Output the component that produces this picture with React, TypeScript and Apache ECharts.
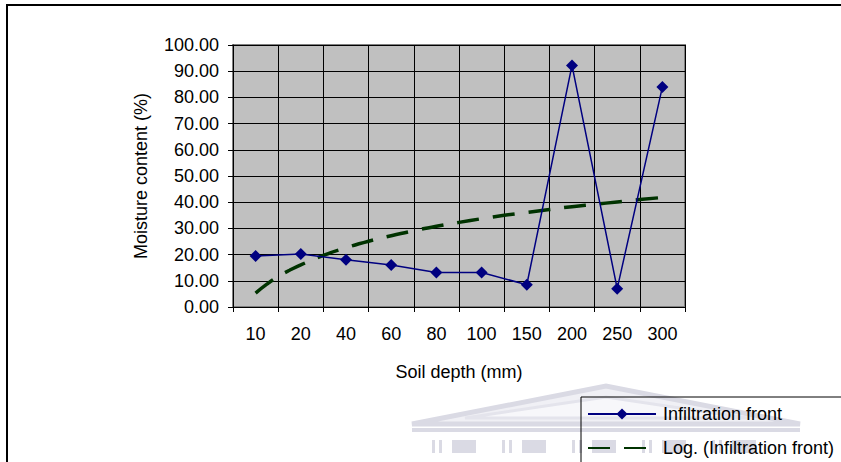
import React, { useEffect, useRef } from "react";
import * as echarts from "echarts";

const categories = ["10", "20", "40", "60", "80", "100", "150", "200", "250", "300"];
const infiltrationFront = [19.5, 20.2, 18.0, 16.0, 13.2, 13.2, 8.5, 92.2, 7.0, 84.0];
// Trend line at every half category step (1 = first category)
const trendPositions = [1, 1.25, 1.5, 1.75, 2, 2.5, 3, 3.5, 4, 4.5, 5, 5.5, 6, 6.5, 7, 7.5, 8, 8.5, 9, 9.5, 10];
const trendValues = [5.3, 8.7, 11.6, 14.0, 16.1, 19.7, 22.6, 25.1, 27.2, 29.1, 30.8, 32.3, 33.7, 35.0, 36.1, 37.2, 38.3, 39.2, 40.1, 41.0, 41.8];
const seriesNames = ["Infiltration front", "Log. (Infiltration front)"];
const yAxisTitle = "Moisture content (%)";
const xAxisTitle = "Soil depth (mm)";

const FONT = "'Liberation Sans', Arial, sans-serif";

function watermark() {
  const c = "#dadae4";
  const cols: any[] = [];
  const starts = [432, 502, 572, 642, 712];
  starts.forEach((s) => {
    cols.push({ type: "rect", shape: { x: s, y: 440, width: 3, height: 13 }, style: { fill: c } });
    cols.push({ type: "rect", shape: { x: s + 7, y: 440, width: 3, height: 13 }, style: { fill: c } });
    cols.push({ type: "rect", shape: { x: s + 20, y: 440, width: 24, height: 13 }, style: { fill: c } });
  });
  return [
    {
      type: "polygon",
      z: 0,
      shape: { points: [[412, 424], [606, 386], [800, 424]] },
      style: { fill: "#f0f0f5", stroke: c, lineWidth: 5 },
    },
    {
      type: "polygon",
      z: 0,
      shape: { points: [[465, 418], [606, 397], [747, 418]] },
      style: { fill: "#f7f7fa", stroke: "#e4e4ec", lineWidth: 3 },
    },
    { type: "rect", z: 0, shape: { x: 412, y: 428, width: 388, height: 4 }, style: { fill: c } },
    ...cols.map((o) => ({ ...o, z: 0 })),
  ];
}

export default function App() {
  const ref = useRef<HTMLDivElement>(null);
  useEffect(() => {
    if (!ref.current) return;
    const chart = echarts.init(ref.current, undefined, { renderer: "svg" });
    const legendCommon = {
      orient: "vertical",
      left: 587,
      padding: 0,
      itemWidth: 68,
      itemHeight: 14,
      selectedMode: false,
      textStyle: { fontSize: 18, color: "#000", fontFamily: FONT, padding: [0, 0, 0, 2] },
    };
    chart.setOption({
      animation: false,
      backgroundColor: "#ffffff",
      textStyle: { fontFamily: FONT },
      graphic: [
        ...watermark(),
        {
          type: "rect",
          z: 1,
          shape: { x: 7, y: 5, width: 1000, height: 1000 },
          style: { fill: "none", stroke: "#000", lineWidth: 2 },
        },
        {
          type: "rect",
          z: 1,
          shape: { x: 581, y: 397, width: 400, height: 200 },
          style: { fill: "none", stroke: "#000", lineWidth: 1 },
        },
      ],
      grid: {
        left: 233,
        top: 45,
        width: 452,
        height: 262,
        show: true,
        backgroundColor: "#c0c0c0",
        borderColor: "#808080",
        borderWidth: 2,
      },
      legend: [
        { ...legendCommon, top: 405, data: [seriesNames[0]] },
        { ...legendCommon, top: 439, data: [seriesNames[1]], itemStyle: { opacity: 0 } },
      ],
      xAxis: [
        {
          type: "category",
          data: categories,
          boundaryGap: true,
          name: xAxisTitle,
          nameLocation: "middle",
          nameGap: 56,
          nameTextStyle: { fontSize: 18, color: "#000", fontFamily: FONT },
          axisLine: { lineStyle: { color: "#000", width: 1 } },
          axisTick: { show: true, interval: 0, length: 5, lineStyle: { color: "#000" } },
          axisLabel: { interval: 0, margin: 18, fontSize: 18, color: "#000", fontFamily: FONT },
          splitLine: { show: true, interval: 0, lineStyle: { color: "#000", width: 1 } },
        },
        {
          type: "value",
          min: 0.5,
          max: 10.5,
          show: false,
          splitLine: { show: false },
        },
      ],
      yAxis: {
        type: "value",
        min: 0,
        max: 100,
        interval: 10,
        name: yAxisTitle,
        nameLocation: "middle",
        nameGap: 83,
        nameRotate: 90,
        nameTextStyle: { fontSize: 18, color: "#000", fontFamily: FONT },
        axisLine: { show: true, lineStyle: { color: "#000", width: 1 } },
        axisTick: { show: true, length: 5, lineStyle: { color: "#000" } },
        axisLabel: {
          margin: 14,
          fontSize: 18,
          color: "#000",
          fontFamily: FONT,
          formatter: (v: number) => v.toFixed(2),
        },
        splitLine: { show: true, lineStyle: { color: "#000", width: 1 } },
      },
      series: [
        {
          name: seriesNames[0],
          type: "line",
          data: infiltrationFront,
          symbol: "diamond",
          symbolSize: 12,
          z: 4,
          itemStyle: { color: "#000080" },
          lineStyle: { color: "#000080", width: 1.5 },
        },
        {
          name: seriesNames[1],
          type: "line",
          xAxisIndex: 1,
          data: trendPositions.map((p, i) => [p, trendValues[i]]),
          symbol: "none",
          smooth: true,
          z: 3,
          itemStyle: { color: "#003300" },
          lineStyle: { color: "#003300", width: 3.5, type: [22, 14], cap: "butt" },
        },
      ],
    });
    return () => chart.dispose();
  }, []);
  return (
    <div
      ref={ref}
      style={{ position: "absolute", left: 0, top: 0, width: 841, height: 462 }}
    />
  );
}
